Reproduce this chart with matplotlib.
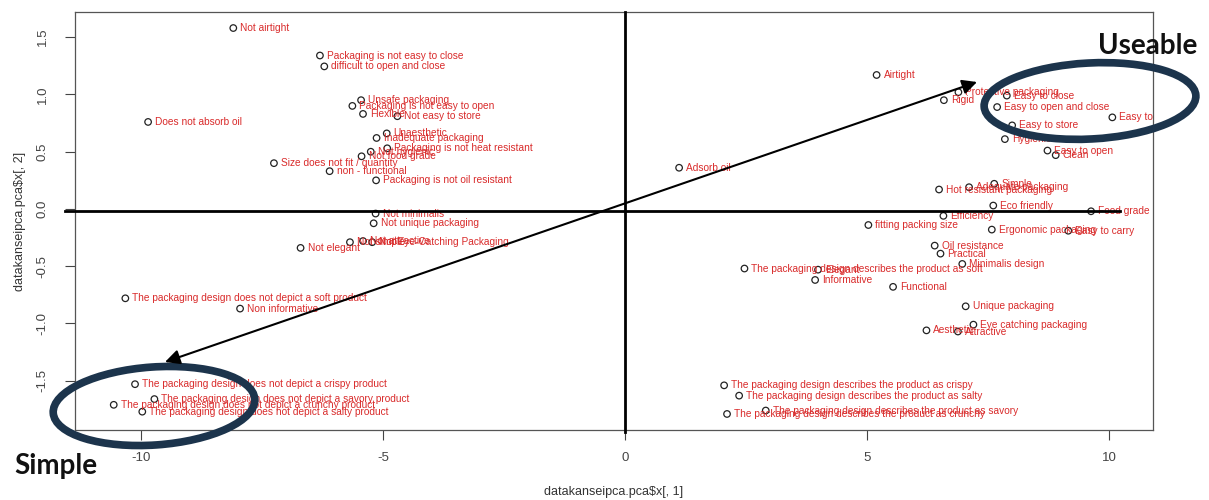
import matplotlib.pyplot as plt
from matplotlib.patches import Ellipse

# PCA scores (PC1, PC2) of the kansei words
words = [
    "Not airtight", "Packaging is not easy to close", "difficult to open and close",
    "Does not absorb oil", "Unsafe packaging", "Packaging is not easy to open",
    "Flexible", "Not easy to store", "Unaesthetic", "Inadequate packaging",
    "Packaging is not heat resistant", "Not hygienic", "Not food grade",
    "Size does not fit / quantity", "non - functional", "Packaging is not oil resistant",
    "Not minimalis", "Not unique packaging", "Not simple", "Not attractive",
    "Not Eye-Catching Packaging", "Not elegant",
    "The packaging design does not depict a soft product", "Non informative",
    "The packaging design does not depict a crispy product",
    "The packaging design does not depict a savory product",
    "The packaging design does not depict a crunchy product",
    "The packaging design does not depict a salty product",
    "Airtight", "Protective packaging", "Rigid", "Easy to close",
    "Easy to open and close", "Easy to use", "Easy to store", "Hygienic",
    "Easy to open", "Clean", "Adsorb oil", "Hot resistant packaging",
    "Adequate packaging", "Simple", "Eco friendly", "Food grade", "Efficiency",
    "fitting packing size", "Ergonomic packaging", "Easy to carry", "Oil resistance",
    "Practical", "Minimalis design",
    "The packaging design describes the product as soft", "Elegant", "Informative",
    "Functional", "Unique packaging", "Eye catching packaging", "Aesthetic", "Attractive",
    "The packaging design describes the product as crispy",
    "The packaging design describes the product as salty",
    "The packaging design describes the product as savory",
    "The packaging design describes the product as crunchy",
]
pc1 = [
    -8.09, -6.30, -6.21, -9.85, -5.45, -5.63, -5.41, -4.70, -4.92, -5.13,
    -4.91, -5.25, -5.44, -7.25, -6.10, -5.14, -5.15, -5.19, -5.68, -5.41,
    -5.22, -6.70, -10.32, -7.95, -10.12, -9.72, -10.56, -9.97,
    5.20, 6.89, 6.59, 7.89, 7.69, 10.07, 8.00, 7.85, 8.73, 8.90, 1.12, 6.49,
    7.11, 7.63, 7.61, 9.63, 6.58, 5.03, 7.58, 9.16, 6.40, 6.52, 6.97,
    2.47, 3.99, 3.93, 5.54, 7.04, 7.20, 6.23, 6.88, 2.05, 2.36, 2.91, 2.11,
]
pc2 = [
    1.58, 1.34, 1.245, 0.76, 0.95, 0.90, 0.83, 0.81, 0.66, 0.62,
    0.53, 0.50, 0.46, 0.40, 0.33, 0.25, -0.04, -0.125, -0.29, -0.28,
    -0.29, -0.34, -0.78, -0.87, -1.53, -1.66, -1.71, -1.77,
    1.17, 1.02, 0.95, 0.99, 0.89, 0.80, 0.73, 0.61, 0.51, 0.47, 0.36, 0.17,
    0.19, 0.22, 0.03, -0.02, -0.06, -0.14, -0.18, -0.19, -0.32, -0.39, -0.48,
    -0.52, -0.53, -0.62, -0.68, -0.85, -1.01, -1.06, -1.07, -1.54, -1.63, -1.76, -1.79,
]
xticks = [-10, -5, 0, 5, 10]
yticks = [-1.5, -1.0, -0.5, 0.0, 0.5, 1.0, 1.5]

plt.rcParams['font.family'] = ['Liberation Sans', 'DejaVu Sans']

fig = plt.figure(figsize=(12.09, 5.0), dpi=100)
ax = fig.add_axes([75 / 1209, 70 / 500, 1078 / 1209, 418 / 500])

ax.scatter(pc1, pc2, s=22, facecolors='none', edgecolors='#222222', linewidths=0.9, zorder=3)
for w, x, y in zip(words, pc1, pc2):
    ax.annotate(w, (x, y), xytext=(5, 0), textcoords='offset points',
                ha='left', va='center', fontsize=7.3, color='#d92b2b',
                clip_on=True, annotation_clip=True)

ax.set_xlim(-11.36, 10.91)
ax.set_ylim(-1.93, 1.72)
ax.set_xticks(xticks)
ax.set_xticklabels([str(t) for t in xticks])
ax.set_yticks(yticks)
ax.set_yticklabels([f"{t:.1f}" for t in yticks], rotation=90, va='center')
ax.tick_params(direction='out', length=7, width=0.8, colors='#444444',
               labelsize=9.5, labelcolor='#444444')
ax.tick_params(axis='x', pad=9)
ax.tick_params(axis='y', pad=12)
for s in ax.spines.values():
    s.set_color('#555555')
    s.set_linewidth(0.9)
ax.set_xlabel('datakanseipca.pca$x[, 1]', fontsize=9, color='#333333', labelpad=16)
ax.set_ylabel('datakanseipca.pca$x[, 2]', fontsize=9, color='#333333', labelpad=8)

# overlay in pixel units for the axes cross, arrow, ellipses and group names
ov = fig.add_axes([0, 0, 1, 1], facecolor='none')
ov.set_xlim(0, 1209)
ov.set_ylim(500, 0)
ov.axis('off')

ov.plot([65, 1120], [211, 211], color='black', lw=2.0)
ov.plot([625, 625], [12, 432], color='black', lw=2.0)
ov.annotate('', xy=(977, 82), xytext=(165, 362),
            arrowprops=dict(arrowstyle='<|-|>', color='black', lw=1.5,
                            mutation_scale=22, shrinkA=0, shrinkB=0))

navy = '#1c344c'
ov.add_patch(Ellipse((1090, 101), 212, 76, angle=-3, fill=False, ec=navy, lw=5.5))
ov.add_patch(Ellipse((154, 406), 202, 78, angle=-4, fill=False, ec=navy, lw=5.5))

ov.text(1148, 46, 'Useable', fontsize=20, fontweight='bold', family='Lato',
        ha='center', va='center', color='#111111')
ov.text(56, 466, 'Simple', fontsize=20, fontweight='bold', family='Lato',
        ha='center', va='center', color='#111111')

fig.savefig('out.png', dpi=100)
